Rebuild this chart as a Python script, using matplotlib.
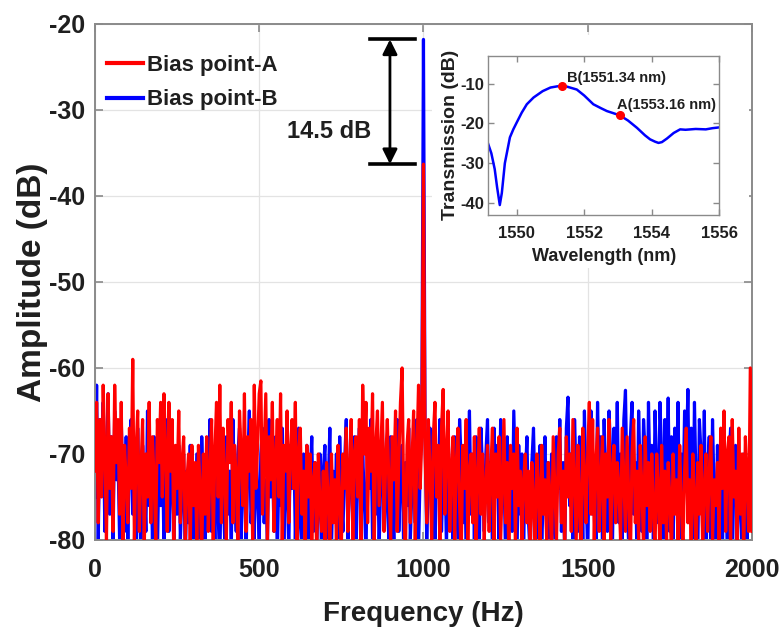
import matplotlib
matplotlib.use("Agg")
import matplotlib.pyplot as plt
from matplotlib.patches import Rectangle
import numpy as np

plt.rcParams['font.family'] = ['Liberation Sans', 'DejaVu Sans']
plt.rcParams['axes.unicode_minus'] = False

# spectrum, 5 Hz spacing, 0..2000 Hz
freq_step = 5
amp_a = [
    -72, -64, -78, -66, -75, -62, -70, -80, -63, -74, -68, -79, -62, -71, -66, -77, -64, -81, -69, -73,
    -78, -67, -74, -59, -80, -70, -65, -79, -72, -66, -81, -70, -75, -64, -78, -68, -73, -80, -66, -71,
    -64, -75, -63, -70, -79, -64, -72, -66, -80, -69, -74, -65, -78, -71, -68, -80, -73, -70, -81, -69,
    -76, -71, -80, -69, -74, -82, -70, -77, -68, -79, -72, -66, -80, -70, -64, -75, -62, -78, -67, -73,
    -80, -66, -71, -64, -78, -69, -73, -81, -65, -70, -76, -63, -79, -68, -72, -66, -80, -62, -74, -69,
    -63, -61.5, -77, -70, -63, -80, -68, -73, -64, -79, -71, -66, -75, -63, -81, -69, -72, -65, -78, -70,
    -66, -74, -64, -80, -70, -67, -77, -72, -81, -69, -75, -70, -80, -73, -71, -82, -70, -76, -79, -72,
    -80, -71, -75, -82, -70, -78, -73, -80, -69, -76, -81, -70, -74, -67, -79, -72, -66, -80, -70, -68,
    -75, -66, -80, -62, -70, -64, -78, -67, -72, -63, -81, -69, -65, -76, -70, -64, -79, -71, -66, -74,
    -80, -68, -73, -65, -79, -71, -64, -60, -76, -82, -69, -66, -78, -71, -65, -80, -70, -62, -74, -68,
    -36.3, -70, -78, -66, -72, -80, -68, -64, -75, -69, -81, -67, -62.5, -77, -70, -65, -79, -72, -68, -80,
    -71, -67, -76, -82, -69, -74, -66, -80, -72, -70, -78, -68, -81, -73, -67, -77, -70, -80, -74, -69,
    -79, -72, -67, -81, -70, -75, -68, -80, -73, -66, -78, -71, -82, -69, -74, -70, -80, -67, -76, -72,
    -81, -73, -70, -78, -72, -82, -71, -76, -80, -70, -74, -81, -69, -77, -73, -80, -71, -75, -82, -68,
    -74, -80, -70, -67, -78, -72, -81, -68, -75, -70, -79, -66, -73, -80, -69, -76, -82, -67, -72, -78,
    -70, -64, -77, -66, -80, -71, -67, -79, -73, -68, -81, -70, -75, -66, -80, -72, -69, -78, -71, -74,
    -80, -67, -73, -79, -68, -75, -82, -70, -66, -78, -72, -80, -69, -74, -81, -68, -76, -71, -79, -70,
    -77, -81, -70, -74, -82, -69, -78, -72, -80, -71, -75, -82, -70, -77, -73, -80, -69, -76, -81, -72,
    -67, -78, -73, -80, -70, -75, -82, -71, -77, -69, -81, -74, -70, -79, -72, -68, -80, -73, -76, -71,
    -80, -67, -74, -65, -79, -70, -68, -81, -66, -75, -72, -80, -67, -77, -70, -82, -68, -73, -79, -60,
    -79,
]
amp_b = [
    -75, -62, -80, -66, -72, -64, -79, -70, -63, -77, -68, -81, -65, -73, -70, -80, -66, -74, -79, -68,
    -81, -70, -66, -77, -72, -80, -67, -75, -82, -69, -73, -79, -65, -76, -71, -80, -68, -74, -82, -70,
    -76, -68, -81, -72, -66, -79, -73, -70, -82, -71, -77, -69, -80, -74, -70, -83, -72, -78, -69, -81,
    -73, -80, -70, -76, -82, -68, -75, -81, -71, -74, -66, -79, -72, -80, -69, -77, -83, -70, -74, -80,
    -68, -77, -72, -81, -66, -74, -79, -70, -67, -80, -73, -69, -82, -71, -65, -78, -74, -80, -68, -75,
    -80, -70, -67, -78, -73, -81, -66, -75, -70, -79, -68, -82, -72, -76, -67, -80, -71, -74, -81, -69,
    -74, -68, -80, -72, -67, -78, -81, -70, -75, -69, -82, -73, -68, -79, -71, -80, -76, -70, -83, -72,
    -69, -80, -74, -67, -81, -72, -77, -70, -82, -68, -75, -79, -71, -66, -80, -73, -70, -78, -68, -81,
    -72, -67, -79, -70, -75, -82, -68, -74, -66, -80, -71, -77, -69, -81, -73, -67, -78, -70, -76, -80,
    -68, -75, -81, -70, -66, -79, -73, -69, -82, -71, -76, -67, -80, -74, -70, -78, -66, -81, -72, -65,
    -21.8, -68, -80, -73, -67, -77, -71, -82, -69, -75, -66, -79, -72, -70, -81, -67, -76, -73, -80, -68,
    -74, -80, -66, -71, -78, -69, -82, -73, -65, -77, -70, -80, -68, -75, -81, -67, -72, -79, -70, -66,
    -78, -71, -81, -67, -74, -69, -80, -66, -76, -72, -82, -68, -75, -70, -79, -65, -73, -81, -69, -77,
    -70, -80, -73, -68, -78, -82, -71, -67, -76, -80, -72, -69, -81, -74, -68, -79, -71, -83, -70, -75,
    -80, -68, -74, -66, -79, -71, -82, -67, -63.4, -76, -70, -81, -66, -73, -79, -68, -71, -80, -65, -74,
    -82, -69, -65, -77, -71, -80, -64, -74, -68, -81, -66, -73, -79, -65, -70, -82, -67, -75, -64, -78,
    -70, -80, -66, -62.6, -75, -81, -68, -64, -77, -71, -82, -65, -73, -79, -66, -70, -83, -64, -74, -69,
    -80, -65, -72, -78, -64, -70, -82, -66, -75, -63.5, -79, -68, -81, -67, -73, -64, -80, -70, -76, -65,
    -71, -62.5, -78, -67, -81, -64, -74, -82, -66, -70, -79, -65, -83, -72, -68, -80, -66, -75, -81, -69,
    -77, -70, -82, -68, -75, -80, -71, -67, -83, -73, -69, -80, -72, -76, -82, -70, -74, -80, -71, -78,
    -73,
]
freq = np.arange(len(amp_a)) * freq_step

# inset: filter transmission
wavelength = [1549.15, 1549.25, 1549.35, 1549.42, 1549.5, 1549.56, 1549.65, 1549.8, 1549.9, 1550.0,
              1550.15, 1550.3, 1550.5, 1550.77, 1551.0, 1551.2, 1551.34, 1551.5, 1551.78, 1552.0,
              1552.27, 1552.5, 1552.67, 1552.85, 1553.06, 1553.3, 1553.56, 1553.8, 1553.95, 1554.1,
              1554.2, 1554.3, 1554.45, 1554.65, 1554.84, 1555.0, 1555.3, 1555.6, 1555.8, 1556.0]
transmission = [-25, -27.5, -31.5, -36, -40.5, -37.5, -30, -23.5, -21.5, -19.8,
                -17.3, -15.2, -13.5, -11.9, -11.0, -10.7, -10.6, -10.8, -11.5, -13.0,
                -15.2, -16.2, -16.9, -17.4, -18.0, -19.3, -21.1, -23, -24, -24.6,
                -24.9, -24.7, -23.8, -22.4, -21.5, -21.6, -21.4, -21.5, -21.2, -21.0]
bias_wl = [1551.34, 1553.06]
bias_tr = [-10.6, -18.0]
bias_labels = ['B(1551.34 nm)', 'A(1553.16 nm)']

txt = '#1f1f1f'
axc = '#8a8a8a'

fig = plt.figure(figsize=(7.81, 6.32), dpi=100)
ax = fig.add_axes([0.1216, 0.1456, 0.8412, 0.8165])

ax.plot(freq, amp_b, color='#0000ff', lw=2.3, label='Bias point-B', zorder=2)
ax.plot(freq, amp_a, color='#ff0000', lw=2.3, label='Bias point-A', zorder=3)

ax.set_xlim(0, 2000)
ax.set_ylim(-80, -20)
ax.set_xticks([0, 500, 1000, 1500, 2000])
ax.set_yticks([-80, -70, -60, -50, -40, -30, -20])
ax.grid(True, color='#e3e3e3', lw=0.9)
ax.set_axisbelow(True)
for s in ax.spines.values():
    s.set_color(axc)
    s.set_linewidth(1.4)
ax.tick_params(direction='in', length=6, width=1.2, color=axc, top=True, right=True,
               labelcolor=txt, labelsize=18)
ax.tick_params(axis='x', pad=13)
ax.tick_params(axis='y', pad=7)
for lab in ax.get_xticklabels() + ax.get_yticklabels():
    lab.set_fontweight('bold')
ax.set_xlabel('Frequency (Hz)', fontsize=20, fontweight='bold', color=txt, labelpad=14)
ax.set_ylabel('Amplitude (dB)', fontsize=24, fontweight='bold', color=txt)
ax.yaxis.set_label_coords(-0.072, 0.5)

h, l = ax.get_legend_handles_labels()
leg = ax.legend(h[::-1], l[::-1], loc='upper left', bbox_to_anchor=(0.005, 0.958), frameon=False,
                prop=dict(size=16, weight='bold'), handlelength=1.6, handletextpad=0.2,
                labelspacing=0.62, borderaxespad=0)
for t in leg.get_texts():
    t.set_color(txt)
for ln in leg.get_lines():
    ln.set_linewidth(3)

# 14.5 dB marker between the two peaks
peak_a = max(amp_a)
peak_b = max(amp_b)
ax.plot([837, 975], [peak_b, peak_b], color='black', lw=2.6, zorder=4)
ax.plot([837, 975], [peak_a, peak_a], color='black', lw=2.6, zorder=4)
ax.annotate('', xy=(898, peak_b), xytext=(898, peak_a),
            arrowprops=dict(arrowstyle='<|-|>', color='black', lw=2.0, mutation_scale=22,
                            shrinkA=0, shrinkB=0), zorder=4)
ax.text(842, (peak_a + peak_b) / 2 - 3.5, '14.5 dB', ha='right', va='center', fontsize=17,
        fontweight='bold', color=txt)

# white backing under the inset
fig.patches.append(Rectangle((0.553, 0.576), 0.406, 0.369, transform=fig.transFigure,
                             facecolor='white', edgecolor='none', zorder=1))

ins = fig.add_axes([0.6248, 0.6598, 0.2962, 0.2521])
ins.set_zorder(2)
ins.plot(wavelength, transmission, color='#0000ff', lw=1.8)
ins.plot(bias_wl, bias_tr, 'o', color='#ff0000', ms=5.5)
ins.text(1551.5, -8.5, bias_labels[0], fontsize=10.5, fontweight='bold', color=txt, va='center')
ins.text(1552.98, -15.3, bias_labels[1], fontsize=10.5, fontweight='bold', color=txt, va='center')
ins.set_xlim(1549.15, 1556)
ins.set_ylim(-43, -3)
ins.set_xticks([1550, 1552, 1554, 1556])
ins.set_yticks([-40, -30, -20, -10])
for s in ins.spines.values():
    s.set_color(axc)
    s.set_linewidth(1.0)
ins.tick_params(direction='in', length=4, width=1.0, color=axc, top=True, right=True,
                labelcolor=txt, labelsize=12)
ins.tick_params(axis='x', pad=8)
ins.tick_params(axis='y', pad=3)
for lab in ins.get_xticklabels() + ins.get_yticklabels():
    lab.set_fontweight('bold')
ins.set_xlabel('Wavelength (nm)', fontsize=13, fontweight='bold', color=txt, labelpad=5)
ins.set_ylabel('Transmission (dB)', fontsize=14, fontweight='bold', color=txt, labelpad=1)

fig.savefig('out.png', dpi=100)
